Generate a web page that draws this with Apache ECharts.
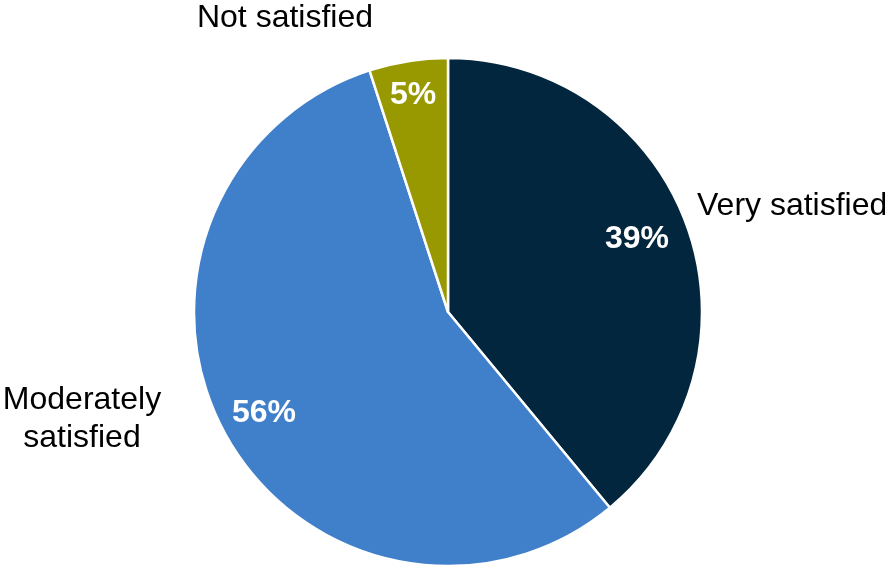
<!DOCTYPE html>
<html>
<head>
<meta charset="utf-8">
<script src="https://cdn.jsdelivr.net/npm/echarts@6/dist/echarts.min.js"></script>
<style>
  html, body { margin: 0; padding: 0; background: #fff; }
  #chart { width: 885px; height: 570px; }
</style>
</head>
<body>
<div id="chart"></div>
<script>
// Satisfaction shares, clockwise from 12 o'clock
const categories = ['Very satisfied', 'Moderately satisfied', 'Not satisfied'];
const shares = [39, 56, 5];
const nameLabels = ['Very satisfied', 'Moderately\nsatisfied', 'Not satisfied'];

const sliceColors = ['#03263F', '#407FCA', '#989800'];

// Label anchor points (px) for percent and category labels
const percentPos = [[637, 239], [264, 413], [413, 95]];
const namePos = [[697, 206, 'left'], [82, 419, 'center'], [285, 18, 'center']];

const pieData = categories.map((c, i) => ({
  name: c,
  value: shares[i],
  itemStyle: { color: sliceColors[i] }
}));

const chart = echarts.init(document.getElementById('chart'), null, { renderer: 'canvas' });
chart.setOption({
  animation: false,
  backgroundColor: '#ffffff',
  series: [
    {
      type: 'pie',
      center: [448, 312],
      radius: [0, 254],
      startAngle: 90,
      clockwise: true,
      silent: true,
      itemStyle: { borderColor: '#ffffff', borderWidth: 2.5 },
      label: {
        show: true,
        position: 'inside',
        formatter: '{c}%',
        color: '#ffffff',
        fontFamily: 'Liberation Sans, Arial, sans-serif',
        fontWeight: 'bold',
        fontSize: 32
      },
      labelLine: { show: false },
      labelLayout: p => ({
        x: percentPos[p.dataIndex][0],
        y: percentPos[p.dataIndex][1],
        align: 'center',
        verticalAlign: 'middle'
      }),
      data: pieData
    },
    {
      type: 'pie',
      center: [448, 312],
      radius: [0, 254],
      startAngle: 90,
      clockwise: true,
      silent: true,
      itemStyle: { color: 'rgba(0,0,0,0)', borderWidth: 0 },
      label: {
        show: true,
        position: 'outside',
        formatter: p => nameLabels[p.dataIndex],
        color: '#000000',
        fontFamily: 'Liberation Sans, Arial, sans-serif',
        fontSize: 32,
        lineHeight: 38,
        align: 'center',
        overflow: 'none',
        width: 220
      },
      labelLine: { show: false },
      labelLayout: p => ({
        x: namePos[p.dataIndex][0],
        y: namePos[p.dataIndex][1],
        align: namePos[p.dataIndex][2],
        verticalAlign: 'middle'
      }),
      data: categories.map((c, i) => ({ name: c, value: shares[i] }))
    }
  ]
});
</script>
</body>
</html>
